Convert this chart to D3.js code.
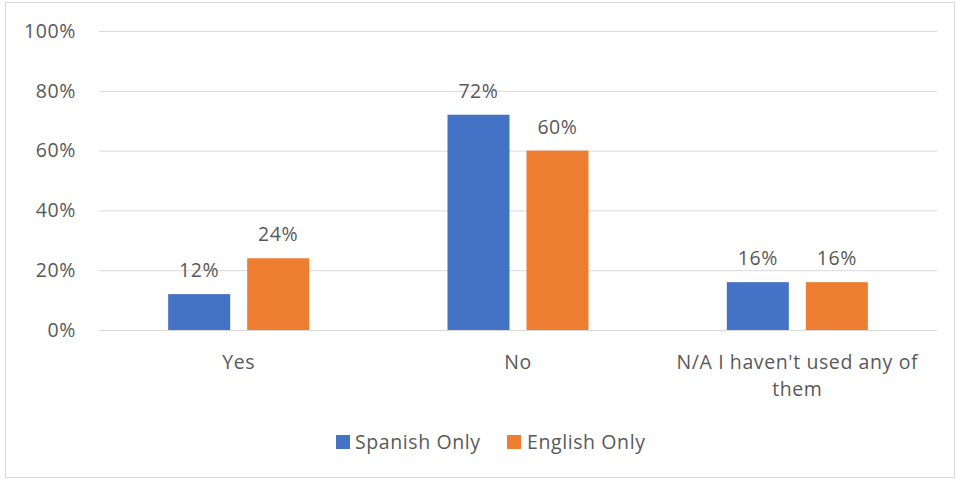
<!DOCTYPE html>
<html><head><meta charset="utf-8">
<script src="https://cdn.jsdelivr.net/npm/d3@7"></script>
<style>body{margin:0;background:#fff}svg{display:block}text{font-family:"Open Sans",Lato,sans-serif;fill:#595959;letter-spacing:0.6px}</style>
</head><body><svg id="c" width="956" height="480"></svg>
<script>
const categories = ["Yes", "No", "N/A I haven't used any of them"];
const categoryLines = [["Yes"], ["No"], ["N/A I haven't used any of", "them"]];
const seriesNames = ["Spanish Only", "English Only"];
const spanishOnly = [0.12, 0.72, 0.16];
const englishOnly = [0.24, 0.60, 0.16];
const yTicks = [0, 0.2, 0.4, 0.6, 0.8, 1.0];
const colors = ["#4472C4", "#ED7D31"];
const FS = 19.5;

const svg = d3.select("#c");
svg.append("rect").attr("x",5.5).attr("y",2.5).attr("width",949).attr("height",475)
  .attr("fill","#fff").attr("stroke","#d9d9d9");

const m = {l:99, r:937, t:31, b:330};
const x = d3.scaleBand().domain(categories).range([m.l, m.r]);
const y = d3.scaleLinear().domain([0,1]).range([m.b, m.t]);
const series = [spanishOnly, englishOnly];
const barW = 62, gap = 17;

svg.append("g").selectAll("line").data(yTicks).join("line")
  .attr("x1",m.l).attr("x2",m.r).attr("y1",d=>y(d)+0.5).attr("y2",d=>y(d)+0.5)
  .attr("stroke","#d9d9d9").attr("stroke-width",1);

svg.append("g").selectAll("text").data(yTicks).join("text")
  .attr("x",76).attr("y",d=>y(d)).attr("dy","0.35em").attr("text-anchor","end")
  .attr("font-size",FS).text(d=>d3.format(".0%")(d));

series.forEach((vals, si) => {
  const off = si===0 ? -gap/2 - barW : gap/2;
  const g = svg.append("g");
  g.selectAll("rect").data(vals).join("rect")
    .attr("x",(d,i)=>x(categories[i]) + x.bandwidth()/2 + off)
    .attr("y",d=>y(d)).attr("width",barW).attr("height",d=>y(0)-y(d))
    .attr("fill",colors[si]);
  g.selectAll("text").data(vals).join("text")
    .attr("x",(d,i)=>x(categories[i]) + x.bandwidth()/2 + off + barW/2)
    .attr("y",d=>y(d)-17).attr("text-anchor","middle").attr("font-size",FS)
    .text(d=>d3.format(".0%")(d));
});

categories.forEach((c,i) => {
  const t = svg.append("text").attr("x",x(c)+x.bandwidth()/2).attr("y",369)
    .attr("text-anchor","middle").attr("font-size",FS);
  categoryLines[i].forEach((ln,j)=>{
    t.append("tspan").attr("x",x(c)+x.bandwidth()/2).attr("dy", j===0?0:27).text(ln);
  });
});

const leg = [{x:336, tx:355}, {x:507, tx:527}];
seriesNames.forEach((n,i)=>{
  svg.append("rect").attr("x",leg[i].x).attr("y",435).attr("width",14).attr("height",14).attr("fill",colors[i]);
  svg.append("text").attr("x",leg[i].tx).attr("y",442).attr("dy","0.35em").attr("font-size",FS).text(n);
});
</script></body></html>
